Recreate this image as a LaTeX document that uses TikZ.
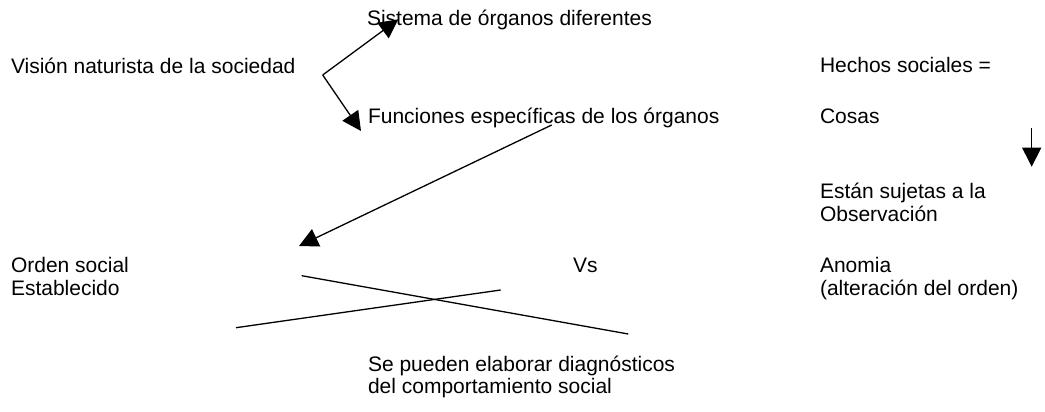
\documentclass[tikz,border=0pt]{standalone}
\usepackage{fontspec}
\setmainfont{Liberation Sans}
\usetikzlibrary{arrows.meta}
\begin{document}
\begin{tikzpicture}[x=1pt,y=-1pt,
  txt/.style={anchor=base west,inner sep=0pt,outer sep=0pt,font=\fontsize{21}{23}\selectfont},
  conn/.style={line width=1.3pt,draw=black},
  arr/.style={conn,-{Triangle[length=19pt,width=19pt]}}]
\useasboundingbox[fill=white] (0,0) rectangle (1045,412);
% texts
\node[txt] (vision) at (11,74) {Visión naturista de la sociedad};
\node[txt] (sistema) at (367,26) {Sistema de órganos diferentes};
\node[txt] (funciones) at (368,123) {Funciones específicas de los órganos};
\node[txt] (hechos) at (820,73) {Hechos sociales =};
\node[txt] (cosas) at (820,123) {Cosas};
\node[txt] (estan) at (820,198) {Están sujetas a la};
\node[txt] (observ) at (820,221) {Observación};
\node[txt] (orden1) at (11,272) {Orden social};
\node[txt] (orden2) at (11,295) {Establecido};
\node[txt] (vs) at (573,272) {Vs};
\node[txt] (anomia1) at (820,272) {Anomia};
\node[txt] (anomia2) at (820,295) {(alteración del orden)};
\node[txt] (diag1) at (368,371) {Se pueden elaborar diagnósticos};
\node[txt] (diag2) at (368,393) {del comportamiento social};
% connector points
\coordinate (branch) at (322.7,75);
\coordinate (tipS) at (398.3,19.3);
\coordinate (tipF) at (361,131);
\coordinate (fstart) at (551.7,125);
\coordinate (tipO) at (299,246);
\coordinate (cstart) at (1031.7,128.3);
\coordinate (ctip) at (1031.7,166.7);
\coordinate (xa1) at (301.7,275.7);
\coordinate (xa2) at (628.3,334);
\coordinate (xb1) at (236,327.7);
\coordinate (xb2) at (500.7,290);
% connectors
\draw[arr] (branch) -- (tipS);
\draw[arr] (branch) -- (tipF);
\draw[arr] (fstart) -- (tipO);
\draw[arr] (cstart) -- (ctip);
\draw[conn] (xa1) -- (xa2);
\draw[conn] (xb1) -- (xb2);
\end{tikzpicture}
\end{document}
